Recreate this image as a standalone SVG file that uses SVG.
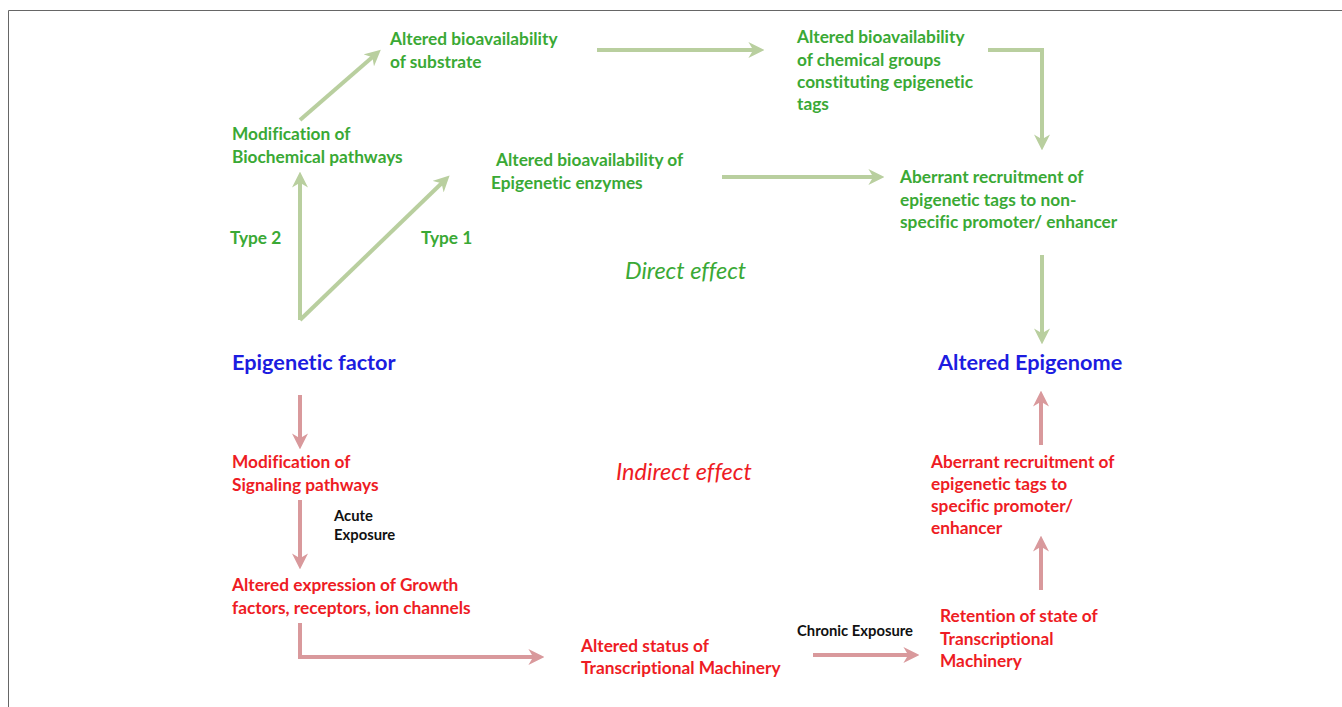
<svg xmlns="http://www.w3.org/2000/svg" width="1342" height="707" viewBox="0 0 1342 707">
<style>
text{font-family:Lato,"Open Sans","Liberation Sans",sans-serif;font-weight:bold;font-size:17.3px;font-variant-ligatures:none}
.g{fill:#3aa935}
.r{fill:#ee1c24}
.b{fill:#1c1ce0;font-size:21.7px}
.k{fill:#111;font-size:14.8px}
.it{font-style:italic;font-size:23.5px;font-weight:normal}
.ga{stroke:#b9cf9f;stroke-width:4;fill:none;marker-end:url(#mg)}
.ra{stroke:#d9999c;stroke-width:4;fill:none;marker-end:url(#mr)}
</style>
<defs>
<marker id="mg" viewBox="0 0 10 10" refX="6" refY="5" markerWidth="4" markerHeight="4" orient="auto" markerUnits="strokeWidth"><path d="M0,0 L10,5 L0,10 L3,5 Z" fill="#b9cf9f"/></marker>
<marker id="mr" viewBox="0 0 10 10" refX="6" refY="5" markerWidth="4" markerHeight="4" orient="auto" markerUnits="strokeWidth"><path d="M0,0 L10,5 L0,10 L3,5 Z" fill="#d9999c"/></marker>
</defs>
<rect width="1342" height="707" fill="#fff"/>
<path d="M8.5,720 V10.5 H1350" fill="none" stroke="#666" stroke-width="1"/>
<g id="connectors">
<path class="ga" d="M300,320 V178"/>
<path class="ga" d="M300,320 L445,180"/>
<path class="ga" d="M300,120 L376,54"/>
<path class="ga" d="M597,50 H758"/>
<path class="ga" d="M988,50 H1042 V144"/>
<path class="ga" d="M722,177 H878"/>
<path class="ga" d="M1042,255 V338"/>
<path class="ra" d="M300,395 V443"/>
<path class="ra" d="M300,500 V563"/>
<path class="ra" d="M300,623 V657 H538"/>
<path class="ra" d="M813,655 H913"/>
<path class="ra" d="M1041,590 V542"/>
<path class="ra" d="M1041,445 V397"/>
</g>
<g id="n-substrate"><text class="g" x="390" y="45">Altered bioavailability</text><text class="g" x="390" y="68">of substrate</text></g>
<g id="n-biochem"><text class="g" x="232" y="140">Modification of</text><text class="g" x="232" y="163">Biochemical pathways</text></g>
<g id="n-enzymes"><text class="g" x="496" y="166">Altered bioavailability of</text><text class="g" x="491" y="189">Epigenetic enzymes</text></g>
<g id="l-type2"><text class="g" x="230" y="244">Type 2</text></g>
<g id="l-type1"><text class="g" x="421" y="244">Type 1</text></g>
<g id="l-direct"><text class="g it" x="625" y="279">Direct effect</text></g>
<g id="n-chemical"><text class="g" x="797" y="43">Altered bioavailability</text><text class="g" x="797" y="66">of chemical groups</text><text class="g" x="797" y="88">constituting epigenetic</text><text class="g" x="797" y="110">tags</text></g>
<g id="n-nonspecific"><text class="g" x="900" y="183">Aberrant recruitment of</text><text class="g" x="900" y="206">epigenetic tags to non-</text><text class="g" x="900" y="228">specific promoter/ enhancer</text></g>
<g id="n-factor"><text class="b" x="232" y="370">Epigenetic factor</text></g>
<g id="n-epigenome"><text class="b" x="938" y="370">Altered Epigenome</text></g>
<g id="n-signaling"><text class="r" x="232" y="468">Modification of</text><text class="r" x="232" y="491">Signaling pathways</text></g>
<g id="l-acute"><text class="k" x="334" y="521">Acute</text><text class="k" x="334" y="540">Exposure</text></g>
<g id="l-indirect"><text class="r it" x="616" y="480">Indirect effect</text></g>
<g id="n-growth"><text class="r" x="232" y="591">Altered expression of Growth</text><text class="r" x="232" y="614">factors, receptors, ion channels</text></g>
<g id="n-status"><text class="r" x="581" y="652">Altered status of</text><text class="r" x="581" y="674">Transcriptional Machinery</text></g>
<g id="l-chronic"><text class="k" x="797" y="636">Chronic Exposure</text></g>
<g id="n-retention"><text class="r" x="940" y="622">Retention of state of</text><text class="r" x="940" y="645">Transcriptional</text><text class="r" x="940" y="667">Machinery</text></g>
<g id="n-specific"><text class="r" x="931" y="468">Aberrant recruitment of</text><text class="r" x="931" y="490">epigenetic tags to</text><text class="r" x="931" y="512">specific promoter/</text><text class="r" x="931" y="534">enhancer</text></g>
</svg>
